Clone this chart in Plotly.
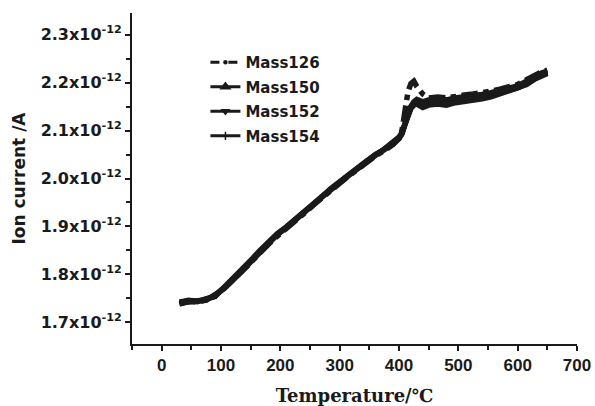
import plotly.graph_objects as go

temperature = [30, 45, 60, 75, 90, 105, 120, 135, 150, 165, 180, 195, 210, 225, 240, 255,
               270, 285, 300, 315, 330, 345, 360, 375, 390, 400, 405, 410, 415, 420, 425, 430,
               440, 450, 465, 480, 495, 510, 525, 540, 555, 570, 585, 600, 615, 630, 640, 650]

# ion current in units of 1e-12 A
mass126 = [1.738, 1.744, 1.742, 1.747, 1.756, 1.771, 1.789, 1.806, 1.826, 1.846, 1.863, 1.880,
           1.895, 1.910, 1.927, 1.944, 1.960, 1.976, 1.992, 2.005, 2.019, 2.034, 2.047, 2.058,
           2.071, 2.084, 2.100, 2.140, 2.180, 2.198, 2.203, 2.192, 2.176, 2.168, 2.170, 2.168,
           2.172, 2.174, 2.176, 2.178, 2.182, 2.186, 2.190, 2.196, 2.206, 2.216, 2.222, 2.226]
mass150 = [1.742, 1.746, 1.744, 1.749, 1.754, 1.773, 1.791, 1.810, 1.829, 1.849, 1.867, 1.885,
           1.899, 1.914, 1.931, 1.947, 1.962, 1.979, 1.994, 2.007, 2.021, 2.036, 2.049, 2.059,
           2.072, 2.083, 2.093, 2.113, 2.133, 2.146, 2.153, 2.157, 2.150, 2.156, 2.158, 2.156,
           2.161, 2.163, 2.166, 2.168, 2.173, 2.178, 2.183, 2.189, 2.198, 2.210, 2.217, 2.221]
mass152 = [1.740, 1.743, 1.745, 1.746, 1.757, 1.770, 1.788, 1.807, 1.827, 1.847, 1.865, 1.883,
           1.897, 1.912, 1.929, 1.945, 1.961, 1.977, 1.993, 2.006, 2.020, 2.035, 2.048, 2.061,
           2.074, 2.086, 2.096, 2.116, 2.136, 2.149, 2.154, 2.155, 2.148, 2.153, 2.155, 2.153,
           2.158, 2.160, 2.163, 2.166, 2.170, 2.176, 2.181, 2.187, 2.196, 2.208, 2.215, 2.219]
mass154 = [1.741, 1.745, 1.743, 1.748, 1.755, 1.772, 1.790, 1.809, 1.828, 1.848, 1.866, 1.884,
           1.898, 1.913, 1.930, 1.946, 1.962, 1.978, 1.994, 2.007, 2.021, 2.036, 2.050, 2.060,
           2.073, 2.085, 2.094, 2.114, 2.134, 2.150, 2.160, 2.165, 2.160, 2.164, 2.166, 2.164,
           2.168, 2.170, 2.172, 2.175, 2.179, 2.184, 2.188, 2.193, 2.203, 2.214, 2.220, 2.224]

x_ticks = [0, 100, 200, 300, 400, 500, 600, 700]
x_tick_labels = ["<b>0</b>", "<b>100</b>", "<b>200</b>", "<b>300</b>", "<b>400</b>",
                 "<b>500</b>", "<b>600</b>", "<b>700</b>"]
y_ticks = [1.7, 1.8, 1.9, 2.0, 2.1, 2.2, 2.3]
y_tick_labels = ["<b>1.7x10<sup>-12</sup></b>", "<b>1.8x10<sup>-12</sup></b>",
                 "<b>1.9x10<sup>-12</sup></b>", "<b>2.0x10<sup>-12</sup></b>",
                 "<b>2.1x10<sup>-12</sup></b>", "<b>2.2x10<sup>-12</sup></b>",
                 "<b>2.3x10<sup>-12</sup></b>"]

series = [
    ("Mass126", mass126, "dashdot", "circle", 3),
    ("Mass150", mass150, "solid", "triangle-up", 8),
    ("Mass152", mass152, "solid", "triangle-down", 6),
    ("Mass154", mass154, "solid", "cross-thin", 6),
]

ink = "#1a1a1a"
fig = go.Figure()
for name, vals, dash, sym, msize in series:
    # data trace (legend entry drawn separately with a thinner sample line)
    fig.add_trace(go.Scatter(
        x=temperature, y=vals, name=name, mode="lines", showlegend=False,
        legendgroup=name,
        line=dict(color=ink, width=5.5, dash=dash),
    ))
for name, vals, dash, sym, msize in series:
    fig.add_trace(go.Scatter(
        x=[None], y=[None], name="<b>" + name + "</b>", mode="lines+markers",
        legendgroup=name, showlegend=True,
        line=dict(color=ink, width=3, dash="dash" if dash == "dashdot" else dash),
        marker=dict(symbol=sym, size=msize, color=ink, line=dict(color=ink, width=1.5)),
    ))

sans = "DejaVu Sans, Liberation Sans, sans-serif"
fig.update_layout(
    width=595, height=406,
    margin=dict(l=132, r=18, t=13, b=62),
    paper_bgcolor="white", plot_bgcolor="white",
    font=dict(family=sans, size=13, color=ink),
    legend=dict(x=0.165, y=0.90, xanchor="left", yanchor="top",
                font=dict(family=sans, size=15, color=ink),
                bgcolor="rgba(0,0,0,0)", tracegroupgap=2, itemwidth=30),
    xaxis=dict(range=[-50, 700], tickvals=x_ticks, ticktext=x_tick_labels,
               showgrid=False, zeroline=False, automargin=False,
               showline=True, linecolor=ink, linewidth=2,
               ticks="outside", ticklen=5, tickwidth=2, tickcolor=ink,
               minor=dict(dtick=50, tick0=0, ticks="outside", ticklen=4, tickwidth=2, tickcolor=ink),
               tickfont=dict(family="Liberation Sans, Arial, sans-serif", size=17),
               title=dict(text="<b>Temperature/℃</b>", standoff=18,
                          font=dict(family="DejaVu Serif, Liberation Serif, serif", size=18))),
    yaxis=dict(range=[1.655, 2.345], tickvals=y_ticks, ticktext=y_tick_labels,
               showgrid=False, zeroline=False, automargin=False,
               showline=True, linecolor=ink, linewidth=2,
               ticks="outside", ticklen=5, tickwidth=2, tickcolor=ink,
               minor=dict(dtick=0.05, tick0=1.7, ticks="outside", ticklen=4, tickwidth=2, tickcolor=ink),
               tickfont=dict(family=sans, size=16),
               title=dict(text="<b>Ion current /A</b>", standoff=11,
                          font=dict(family=sans, size=17))),
)

fig.write_html("out.html", config={"displayModeBar": False},
               post_script="document.body.style.margin='0';")
